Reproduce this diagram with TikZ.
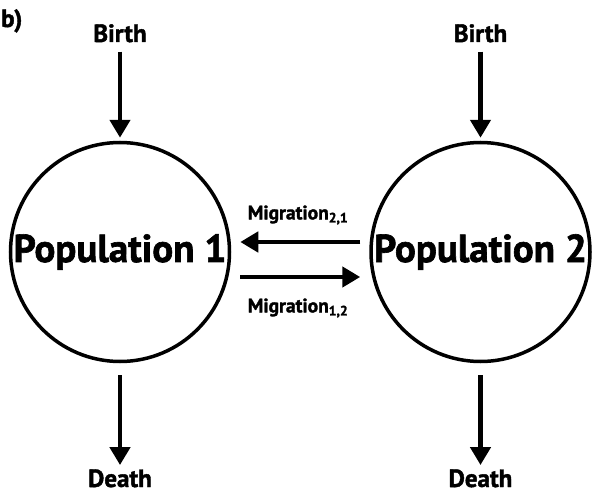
\documentclass[tikz,border=0pt]{standalone}
\usepackage{fontspec}
\setmainfont{PT Sans}[BoldFeatures={FakeBold=1.6}]
\usetikzlibrary{arrows.meta,positioning}

\begin{document}
\begin{tikzpicture}[
  pop/.style={draw, circle, line width=3.5pt, minimum size=219pt, inner sep=0pt, font=\bfseries\fontsize{39}{41}\selectfont},
  label/.style={inner sep=0pt, font=\bfseries\fontsize{25}{27}\selectfont},
  mig/.style={inner sep=0pt, font=\bfseries\fontsize{19.5}{21}\selectfont},
  flow/.style={-{Triangle[width=20pt,length=18pt]}, line width=4.5pt},
]
  \useasboundingbox (0,0) rectangle (592pt,-495pt);

  \node[pop] (pop1) at (120pt,-252pt) {Population 1};
  \node[pop, right=138pt of pop1] (pop2) {Population 2};

  \coordinate (top) at (0,-42pt);
  \coordinate (bottom) at (0,-487pt);
  \node[label, anchor=base] (birth1) at (pop1 |- top) {Birth};
  \node[label, anchor=base] (birth2) at (pop2 |- top) {Birth};
  \node[label, anchor=base] (death1) at (pop1 |- bottom) {Death};
  \node[label, anchor=base] (death2) at (pop2 |- bottom) {Death};
  \node[label, anchor=base west] (tag) at (1pt,-27pt) {b)};

  \node[mig] (m21) at (298pt,-215pt) {Migration\textsubscript{2,1}};
  \node[mig] (m12) at (298pt,-308pt) {Migration\textsubscript{1,2}};

  \draw[flow, shorten <=9pt] (birth1) -- ([yshift=3pt]pop1.north);
  \draw[flow, shorten <=9pt] (birth2) -- ([yshift=3pt]pop2.north);
  \draw[flow, shorten >=4pt] ([yshift=-12pt]pop1.south) -- (death1.north);
  \draw[flow, shorten >=4pt] ([yshift=-12pt]pop2.south) -- (death2.north);

  \draw[flow] ([xshift=-9pt,yshift=10pt]pop2.west) -- ([xshift=9pt,yshift=10pt]pop1.east);
  \draw[flow] ([xshift=9pt,yshift=-25pt]pop1.east) -- ([xshift=-9pt,yshift=-25pt]pop2.west);
\end{tikzpicture}
\end{document}
